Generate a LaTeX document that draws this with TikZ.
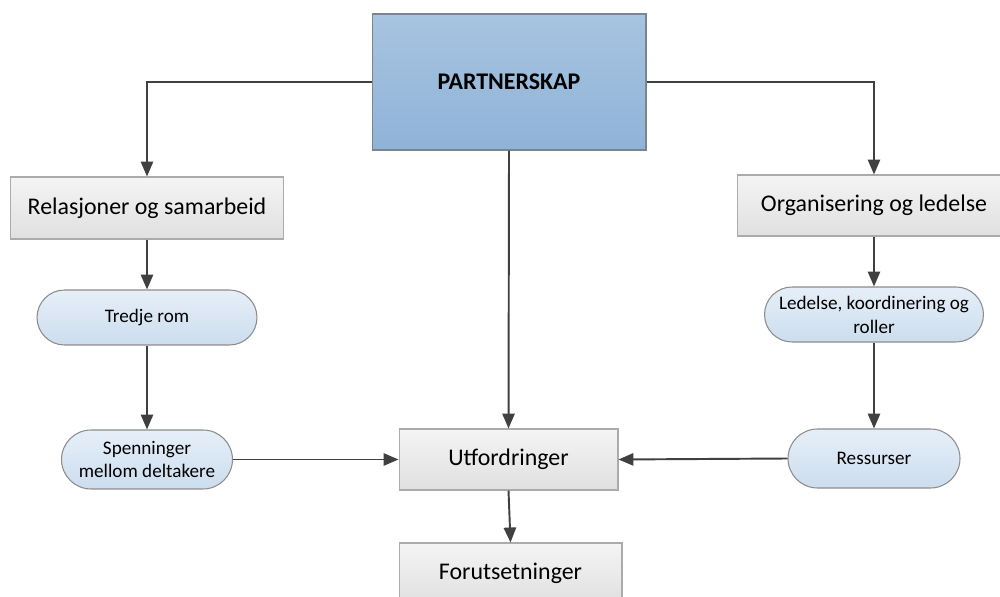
\documentclass[tikz,border=0pt]{standalone}
\usepackage{fontspec}
\setmainfont{Carlito}
\usetikzlibrary{arrows.meta,shapes.misc}
\definecolor{linec}{HTML}{404040}
\definecolor{boxtop}{HTML}{F4F4F4}
\definecolor{boxbot}{HTML}{E0E0E0}
\definecolor{boxdraw}{HTML}{ABABAB}
\definecolor{pilltop}{HTML}{E6EFF8}
\definecolor{pillbot}{HTML}{CCDDEE}
\definecolor{pilldraw}{HTML}{8C8C8C}
\definecolor{ptop}{HTML}{A7C4E0}
\definecolor{pbot}{HTML}{8FB3D8}
\definecolor{pdraw}{HTML}{7A8590}
\tikzset{
  graybox/.style={draw=boxdraw, line width=0.6pt, top color=boxtop, bottom color=boxbot,
    font=\fontsize{13.6}{16}\selectfont, inner sep=0pt, align=center},
  pill/.style={rounded rectangle, draw=pilldraw, line width=0.6pt, top color=pilltop, bottom color=pillbot,
    font=\fontsize{10.9}{13.6}\selectfont, inner sep=0pt, align=center},
  conn/.style={draw=linec, line width=1.1pt, -{Triangle[width=7pt,length=8.5pt]}}
}
\begin{document}
\begin{tikzpicture}[x=0.02cm,y=-0.02cm]
\clip (0,0) rectangle (1000,597);
\fill[white] (0,0) rectangle (1000,597);
\node[draw=pdraw, line width=0.6pt, top color=ptop, bottom color=pbot, minimum width=5.48cm, minimum height=2.72cm,
  font=\fontsize{13.6}{16}\selectfont\bfseries, inner sep=0pt] (P) at (509,82) {PARTNERSKAP};
\node[graybox, minimum width=5.46cm, minimum height=1.24cm] (R) at (147,208) {Relasjoner og samarbeid};
\node[graybox, minimum width=5.48cm, minimum height=1.22cm] (O) at (874,205.5) {Organisering og ledelse};
\node[pill, minimum width=4.4cm, minimum height=1.1cm] (T) at (147,317.5) {Tredje rom};
\node[pill, minimum width=4.38cm, minimum height=1.1cm] (L) at (874,314.5) {Ledelse, koordinering og\\roller};
\node[pill, minimum width=3.42cm, minimum height=1.18cm] (S) at (147,459.5) {Spenninger\\mellom deltakere};
\node[pill, minimum width=3.44cm, minimum height=1.18cm] (Re) at (874,458.5) {Ressurser};
\node[graybox, minimum width=4.38cm, minimum height=1.22cm] (U) at (508.5,459.5) {Utfordringer};
\node[graybox, minimum width=4.46cm, minimum height=1.22cm] (F) at (510.5,573.5) {Forutsetninger};
\draw[conn] (P.west) -| (R.north);
\draw[conn] (P.east) -| (O.north);
\draw[conn] (P.south) -- (U.north);
\draw[conn] (R.south) -- (T.north);
\draw[conn] (T.south) -- (S.north);
\draw[conn] (O.south) -- (L.north);
\draw[conn] (L.south) -- (Re.north);
\draw[conn] (S.east) -- (U.west);
\draw[conn] (Re.west) -- (U.east);
\draw[conn] (U.south) -- (F.north);
\end{tikzpicture}
\end{document}
